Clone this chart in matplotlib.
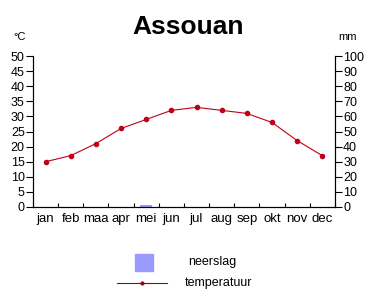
import numpy as np
import matplotlib.pyplot as plt
from matplotlib.lines import Line2D
from matplotlib.patches import Rectangle

plt.rcParams['font.family'] = ['Liberation Sans', 'DejaVu Sans']

maanden = ['jan', 'feb', 'maa', 'apr', 'mei', 'jun', 'jul', 'aug', 'sep', 'okt', 'nov', 'dec']
temperatuur = [15, 17, 21, 26, 29, 32, 33, 32, 31, 28, 22, 17]
neerslag = [0, 0, 0, 0, 1, 0, 0, 0, 0, 0, 0, 0]

x = np.arange(len(maanden))

fig = plt.figure(figsize=(3.84, 3.03), dpi=100)
ax = fig.add_axes([0.086, 0.317, 0.786, 0.498])
ax2 = ax.twinx()

# neerslag op rechter as
ax2.bar(x, neerslag, width=0.5, color='#9999ff', zorder=1)
ax2.set_ylim(0, 100)
ax2.set_yticks(range(0, 101, 10))

ax.set_zorder(ax2.get_zorder() + 1)
ax.patch.set_visible(False)
ax.plot(x, temperatuur, '-', color='#c00018', linewidth=0.8,
        marker='o', markersize=3)
ax.set_ylim(0, 50)
ax.set_yticks(range(0, 51, 5))
ax.set_xlim(-0.5, 11.5)
ax.set_xticks(x)
ax.set_xticklabels(maanden)
ax.set_xticks(np.arange(-0.5, 12, 1), minor=True)
ax.tick_params(axis='x', which='major', length=0, labelsize=9.5, pad=4)
ax.tick_params(axis='x', which='minor', direction='in', length=3, width=0.8)
ax.tick_params(axis='y', direction='out', length=5, width=0.8, labelsize=9, pad=1)
ax2.tick_params(axis='y', direction='out', length=5, width=0.8, labelsize=9, pad=1)

for a in (ax, ax2):
    a.spines['top'].set_visible(False)
    for s in a.spines.values():
        s.set_linewidth(0.8)

fig.text(0.49, 0.91, 'Assouan', ha='center', va='center',
         fontsize=19, fontweight='bold')
fig.text(0.052, 0.878, '°C', ha='center', va='center', fontsize=8)
fig.text(0.906, 0.878, 'mm', ha='center', va='center', fontsize=8)

# legenda
fig.patches.append(Rectangle((0.352, 0.105), 0.047, 0.058, transform=fig.transFigure,
                             color='#9999ff'))
fig.text(0.49, 0.135, 'neerslag', va='center', fontsize=9)
fig.lines.append(Line2D([0.305, 0.435], [0.066, 0.066], transform=fig.transFigure,
                        color='#a00010', linewidth=0.8))
fig.lines.append(Line2D([0.37], [0.066], transform=fig.transFigure,
                        color='#a00010', marker='o', markersize=2))
fig.text(0.48, 0.066, 'temperatuur', va='center', fontsize=9)

fig.savefig('out.png', dpi=100)
